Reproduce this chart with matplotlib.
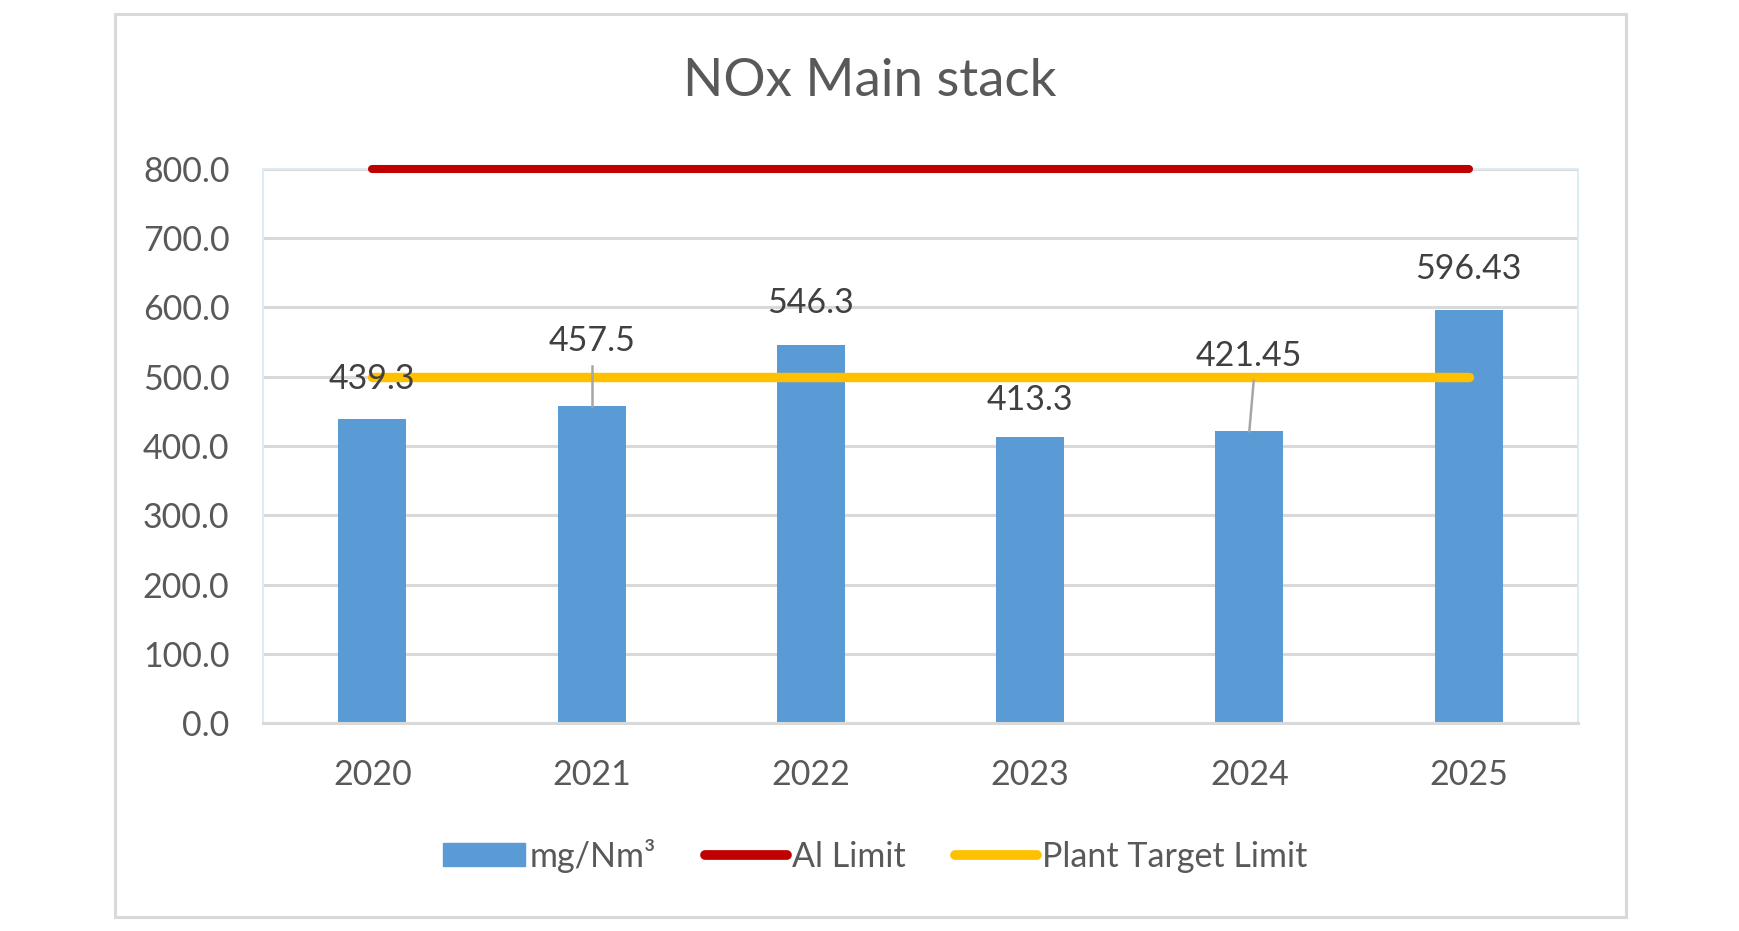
import matplotlib
matplotlib.use("Agg")
import matplotlib.pyplot as plt
from matplotlib.patches import Rectangle, Patch
from matplotlib.lines import Line2D

plt.rcParams['font.family'] = ['Lato', 'DejaVu Sans']

years = ["2020", "2021", "2022", "2023", "2024", "2025"]
nox_values = [439.3, 457.5, 546.3, 413.3, 421.45, 596.43]
value_labels = ["439.3", "457.5", "546.3", "413.3", "421.45", "596.43"]
ai_limit = [800, 800, 800, 800, 800, 800]
plant_target = [500, 500, 500, 500, 500, 500]
y_ticks = [0, 100, 200, 300, 400, 500, 600, 700, 800]
# label positions (data units) as placed in the reference
label_y = [497, 552, 606, 467, 530, 656]

TEXT = "#595959"
BAR = "#5B9BD5"
RED = "#C00000"
YEL = "#FFC000"
GRID = "#D9D9D9"

fig = plt.figure(figsize=(17.4, 9.31), dpi=100)
ax = fig.add_axes([0.151, 0.2234, 0.756, 0.5951])

x = list(range(len(years)))
ax.bar(x, nox_values, width=0.31, color=BAR, zorder=2)
ax.plot(x, ai_limit, color=RED, lw=5.8, solid_capstyle='round', zorder=3, clip_on=False)
ax.plot(x, plant_target, color=YEL, lw=6.8, solid_capstyle='round', zorder=3)

for i, (v, lab, ly) in enumerate(zip(nox_values, value_labels, label_y)):
    ax.text(i, ly, lab, ha='center', va='center', fontsize=24.5, color="#404040", zorder=5)
    if ly - v > 70:
        xs = i + (0.02 if i == 4 else 0)
        ax.plot([xs, i], [ly - 36, v], color="#A6A6A6", lw=1.8, zorder=4)

ax.set_xlim(-0.5, 5.5)
ax.set_ylim(0, 800)
ax.set_yticks(y_ticks)
ax.set_yticklabels([f"{t:.1f}" for t in y_ticks])
ax.set_xticks(x)
ax.set_xticklabels(years)
ax.tick_params(axis='both', length=0, labelsize=24.5, colors=TEXT)
ax.tick_params(axis='x', pad=26)
ax.tick_params(axis='y', pad=24)
ax.grid(axis='y', color=GRID, lw=2.2, zorder=0)
ax.set_axisbelow(True)
for s in ['top', 'right', 'left']:
    ax.spines[s].set_color("#DDEBF7")
    ax.spines[s].set_linewidth(1.5)
ax.spines['bottom'].set_color(GRID)
ax.spines['bottom'].set_linewidth(2.2)

fig.text(0.5, 0.912, "NOx Main stack", ha='center', va='center', fontsize=38, color=TEXT)

border = Rectangle((115 / 1740, 1 - 917 / 931), (1626 - 115) / 1740, (917 - 14) / 931,
                   transform=fig.transFigure, fill=False, edgecolor=GRID, lw=2.2)
fig.patches.append(border)

handles = [Patch(facecolor=BAR, edgecolor=BAR),
           Line2D([0], [0], color=RED, lw=7, solid_capstyle='round'),
           Line2D([0], [0], color=YEL, lw=7, solid_capstyle='round')]
fig.legend(handles, ["mg/Nm³", "Al Limit", "Plant Target Limit"], loc='center',
           bbox_to_anchor=(0.503, 0.081), ncol=3, frameon=False, fontsize=24.5,
           labelcolor=TEXT, handlelength=2.4, handleheight=0.65, handletextpad=0.15,
           columnspacing=1.45)

fig.savefig("out.png", dpi=100, facecolor='white')
